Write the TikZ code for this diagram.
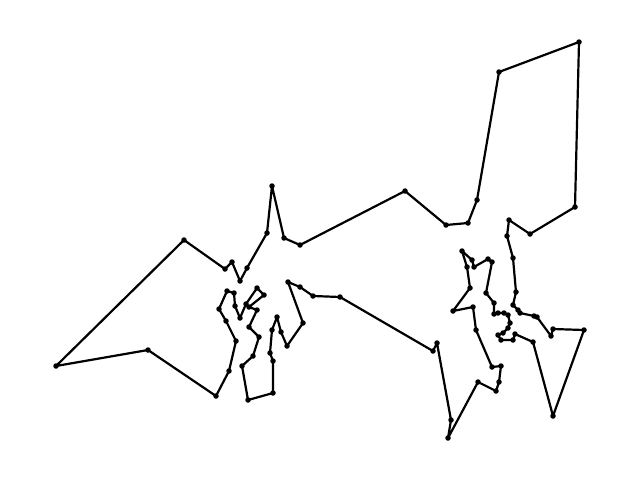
\documentclass[tikz,border=0pt]{standalone}
\begin{document}
\begin{tikzpicture}[x=1pt,y=-1pt,
  dot/.style={circle,fill=black,inner sep=0pt,minimum size=5.5pt},
  edge/.style={line width=2.2pt,line join=round,line cap=round}]
\useasboundingbox (0,0) rectangle (640,480);
\foreach \x/\y [count=\i] in {
56/366,184/240,225/269,232/262,240/281,247/268,267/233,272/186,284/238,300/245,
405/191,446/225,468/223,477/200,499/72,579/42,575/207,530/234,509/220,507/236,
513/258,516/292,513/305,518/310,520/313,534/316,537/317,551/336,553/329,584/330,
553/416,533/342,515/334,513/340,501/340,498/335,503/333,508/328,510/323,508/315,
504/313,498/313,494/314,494/303,486/293,492/262,488/259,474/267,472/260,462/251,
467/267,470/288,453/311,473/307,476/330,492/367,501/366,499/382,496/391,478/382,
448/438,451/420,437/343,433/351,340/297,313/296,300/287,288/282,303/323,287/346,
281/332,277/317,272/330,270/353,273/361,273/393,248/400,242/366,253/356,259/337,
249/327,257/310,249/307,264/295,257/288,246/304,240/318,235/306,234/293,227/291,
219/309,226/321,236/341,229/371,216/396,148/350}
  \node[dot] (p\i) at (\x,\y) {};
\draw[edge] (p1.center) \foreach \i in {2,...,96} { -- (p\i.center) } -- cycle;
\end{tikzpicture}
\end{document}
